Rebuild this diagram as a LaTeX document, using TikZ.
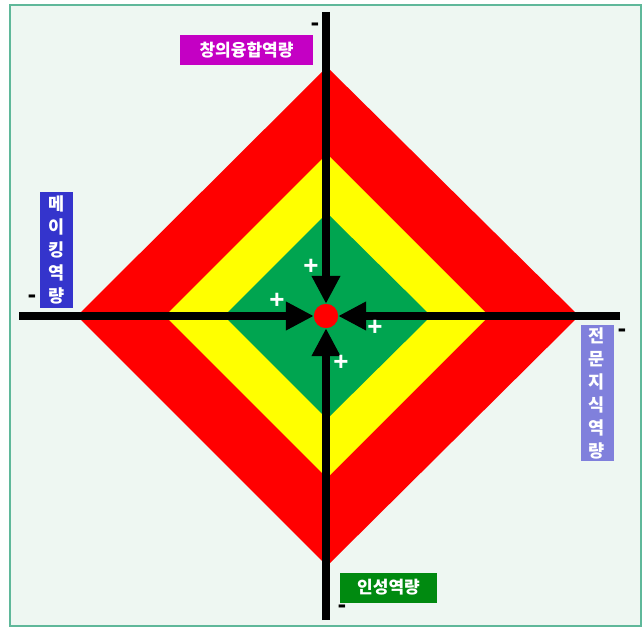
\documentclass[tikz,border=0pt]{standalone}
\usepackage{fontspec}
\newfontfamily\kr{Noto Sans CJK KR}
\newfontfamily\lsans{Liberation Sans}
\newfontfamily\dvs{DejaVu Sans}
\usetikzlibrary{arrows.meta}
\definecolor{bgc}{HTML}{EEF7F2}
\definecolor{framec}{HTML}{5FB89A}
\definecolor{redc}{HTML}{FF0000}
\definecolor{yelc}{HTML}{FFFF00}
\definecolor{grnc}{HTML}{00A550}
\definecolor{magc}{HTML}{C400C4}
\definecolor{bluc}{HTML}{3434CC}
\definecolor{lavc}{HTML}{8080DC}
\definecolor{labg}{HTML}{008A10}
\tikzset{
  axisline/.style={line width=8pt, black, -{Triangle[length=28pt,width=27pt]}, shorten >=0pt},
  hlabel/.style={text=white, inner sep=0pt, minimum height=30pt, font=\kr\bfseries\fontsize{17}{17}\selectfont},
  vlabel/.style={text=white, inner sep=0pt, text width=33pt, align=center, font=\kr\bfseries\fontsize{17.5}{23}\selectfont},
  plussign/.style={text=white, inner sep=0pt, font=\lsans\bfseries\fontsize{26}{26}\selectfont},
  minussign/.style={text=black, inner sep=0pt, font=\dvs\bfseries\fontsize{21}{21}\selectfont},
}
\begin{document}
\begin{tikzpicture}[x=1pt,y=-1pt]
\useasboundingbox (0,0) rectangle (643,628);
\fill[white] (0,0) rectangle (643,628);
\draw[fill=bgc, draw=framec, line width=1.5pt] (10,5) rectangle (641,626);
% diamonds
\fill[redc] (77,316) -- (327,67) -- (579,316) -- (327,566) -- cycle;
\fill[yelc] (165,316) -- (327,154) -- (489,316) -- (327,478) -- cycle;
\fill[grnc] (224,316) -- (327,213) -- (431,316) -- (327,419) -- cycle;
% axes
\node[circle, fill=redc, minimum size=24pt, inner sep=0pt] (c) at (326,316) {};
\coordinate (top) at (326,12);
\coordinate (bot) at (326,620);
\coordinate (lft) at (19,316);
\coordinate (rgt) at (620,316);
\draw[axisline] (top) -- (c.north);
\draw[axisline] (bot) -- (c.south);
\draw[axisline] (lft) -- (c.west);
\draw[axisline] (rgt) -- (c.east);
\node[circle, fill=redc, minimum size=24pt, inner sep=0pt] at (c) {};
% plus signs
\node[plussign] (p1) at (311,267) {+};
\node[plussign] (p2) at (277,301) {+};
\node[plussign] (p3) at (375,328) {+};
\node[plussign] (p4) at (341,363) {+};
% minus signs
\node[minussign] (m1) at (315,27) {-};
\node[minussign] (m2) at (32,299) {-};
\node[minussign] (m3) at (622,333) {-};
\node[minussign] (m4) at (342,609) {-};
% labels
\node[hlabel, fill=magc, minimum width=133pt] (l1) at (246.5,50) {창의융합역량};
\node[vlabel, fill=bluc, minimum height=116pt] (l2) at (56.5,250) {메\\이\\킹\\역\\량};
\node[vlabel, fill=lavc, minimum height=136pt] (l3) at (597,393) {전\\문\\지\\식\\역\\량};
\node[hlabel, fill=labg, minimum width=97pt] (l4) at (388.5,587.5) {인성역량};
\end{tikzpicture}
\end{document}
